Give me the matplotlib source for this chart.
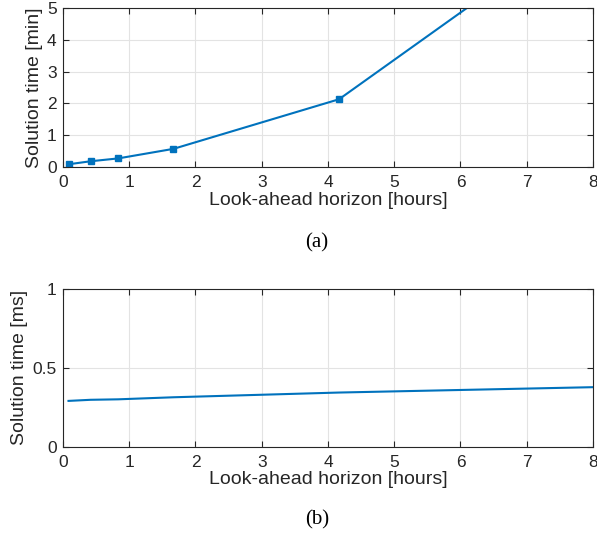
import numpy as np
import matplotlib.pyplot as plt

# look-ahead horizon (hours): 5, 25, 50, 100, 250, 480 minutes
horizon = [5/60, 25/60, 50/60, 100/60, 250/60, 8.0]
time_a_min = [0.085, 0.18, 0.27, 0.57, 2.13, 7.83]
time_b_ms = [0.290, 0.297, 0.300, 0.313, 0.343, 0.377]

blue = '#0072BD'
plt.rcParams['font.family'] = ['Liberation Sans', 'DejaVu Sans']

fig = plt.figure(figsize=(5.97, 5.33), dpi=100)
ax1 = fig.add_axes([0.1055, 0.6867, 0.8878, 0.2983])
ax2 = fig.add_axes([0.1055, 0.162, 0.8878, 0.296])


def style(ax):
    ax.grid(True, color='#e3e3e3', linewidth=0.8)
    ax.set_axisbelow(True)
    ax.tick_params(direction='in', top=True, right=True, labelsize=12.5,
                   colors='#262626', length=4, width=0.8)
    ax.tick_params(axis='x', pad=6)
    ax.tick_params(axis='y', pad=4.5)
    for s in ax.spines.values():
        s.set_color('#262626')
        s.set_linewidth(0.8)
    ax.set_xlim(0, 8)
    ax.set_xticks(range(0, 9))
    ax.set_xlabel('Look-ahead horizon [hours]', fontsize=14, color='#262626', labelpad=1)


ax1.plot(horizon, time_a_min, '-s', color=blue, linewidth=1.5, markersize=4.5)
style(ax1)
ax1.set_ylim(0, 5)
ax1.set_yticks(range(0, 6))
ax1.set_ylabel('Solution time [min]', fontsize=14, color='#262626', labelpad=3)

ax2.plot(horizon, time_b_ms, '-', color=blue, linewidth=1.5)
style(ax2)
ax2.set_ylim(0, 1)
ax2.set_yticks([0, 0.5, 1])
ax2.set_yticklabels(['0', '0.5', '1'])
ax2.set_ylabel('Solution time [ms]', fontsize=14, color='#262626', labelpad=3)

fig.text(0.531, 0.544, '(a)', ha='center', va='center', fontsize=15,
         family=['Liberation Serif', 'DejaVu Serif'])
fig.text(0.531, 0.025, '(b)', ha='center', va='center', fontsize=15,
         family=['Liberation Serif', 'DejaVu Serif'])

fig.savefig('out.png', dpi=100)
